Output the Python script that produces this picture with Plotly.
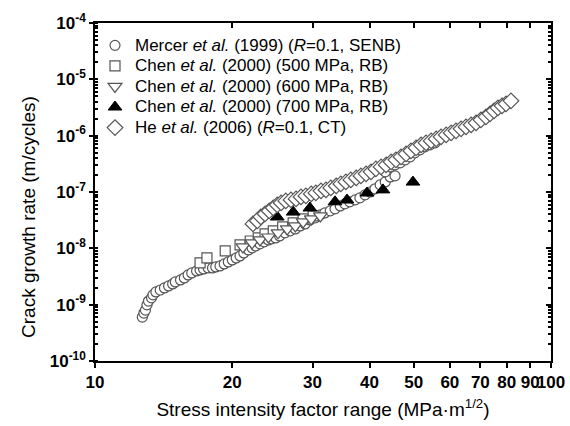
import plotly.graph_objects as go

# ---- Data ----
mercer_K = [12.7, 12.8, 12.9, 13.0, 13.1, 13.3, 13.4, 13.6, 13.9, 14.2, 14.5, 14.8, 15.0, 15.4,
            15.7, 16.0, 16.3, 16.7, 17.0, 17.3, 17.7, 18.1, 18.4, 18.8, 19.2, 19.6, 20.0, 20.4,
            20.8, 21.2, 21.7, 22.1, 22.5, 23.0, 23.5, 24.0, 24.4, 24.9, 25.4, 26.1, 26.8, 27.5,
            28.2, 28.9, 29.6, 30.4, 31.2, 31.9, 32.8, 33.6, 34.5, 35.3, 36.2, 37.2, 38.1, 39.1,
            40.1, 41.1, 42.2, 43.3, 44.4, 45.5,
            43.3, 44.4, 45.5, 46.7, 47.9, 49.1, 50.3, 51.6, 52.9, 54.3, 55.7]
mercer_da = [6.0e-10, 7.1e-10, 8.0e-10, 9.9e-10, 1.16e-9, 1.32e-9, 1.49e-9, 1.68e-9, 1.82e-9,
             1.98e-9, 2.15e-9, 2.33e-9, 2.53e-9, 2.75e-9, 2.98e-9, 3.37e-9, 3.66e-9, 3.97e-9,
             4.13e-9, 4.31e-9, 4.49e-9, 4.49e-9, 4.67e-9, 4.87e-9, 5.28e-9, 5.73e-9, 6.22e-9,
             6.75e-9, 7.33e-9, 8.29e-9, 9.37e-9, 1.02e-8, 1.10e-8, 1.20e-8, 1.30e-8, 1.41e-8,
             1.47e-8, 1.53e-8, 1.66e-8, 1.88e-8, 2.04e-8, 2.21e-8, 2.50e-8, 2.71e-8, 3.19e-8,
             3.47e-8, 3.92e-8, 4.25e-8, 4.62e-8, 5.01e-8, 5.66e-8, 6.15e-8, 6.67e-8, 7.24e-8,
             7.86e-8, 8.88e-8, 1.00e-7, 1.14e-7, 1.34e-7, 1.51e-7, 1.85e-7, 1.93e-7,
             2.28e-7, 2.79e-7, 3.03e-7, 3.29e-7, 3.72e-7, 4.20e-7, 4.95e-7, 5.60e-7, 6.33e-7,
             6.87e-7, 7.45e-7]

chen500_K = [17.0, 17.6, 19.3, 20.8, 21.9, 22.8, 23.6, 24.6, 25.8, 27.2, 28.6, 30.1]
chen500_da = [5.5e-9, 6.75e-9, 8.99e-9, 1.15e-8, 1.35e-8, 1.53e-8, 1.80e-8, 2.04e-8, 2.40e-8,
              2.83e-8, 3.33e-8, 3.76e-8]

chen600_K = [21.1, 22.1, 23.0, 24.0, 25.2, 26.4, 27.5, 28.6, 29.8, 31.2]
chen600_da = [1.06e-8, 1.25e-8, 1.41e-8, 1.59e-8, 1.88e-8, 2.21e-8, 2.50e-8, 2.94e-8, 3.33e-8,
              3.76e-8]

chen700_K = [25.1, 27.2, 29.6, 33.6, 35.7, 39.5, 42.8, 49.8]
chen700_da = [3.6e-8, 4.4e-8, 5.2e-8, 6.7e-8, 7.2e-8, 9.6e-8, 1.09e-7, 1.5e-7]

he_K = [22.2, 22.7, 23.1, 23.6, 24.1, 24.6, 25.1, 25.6, 26.2, 26.9, 27.6, 28.3, 29.0, 29.8,
        30.5, 31.3, 32.1, 32.9, 33.8, 34.6, 35.5, 36.4, 37.4, 38.3, 39.3, 40.3, 41.3, 42.4,
        43.5, 44.6, 45.7, 46.9, 48.1, 49.3, 50.6, 51.9, 53.2, 54.6, 56.0, 57.4, 58.9, 60.4,
        61.9, 63.5, 65.1, 66.8, 68.5, 70.2, 72.0, 73.5, 75.0, 76.5, 78.1, 79.7, 81.7]
he_da = [2.71e-8, 3.07e-8, 3.61e-8, 4.08e-8, 4.62e-8, 5.22e-8, 5.90e-8, 6.40e-8, 6.95e-8,
         7.24e-8, 7.54e-8, 8.19e-8, 8.53e-8, 9.25e-8, 9.64e-8, 1.05e-7, 1.09e-7, 1.18e-7,
         1.28e-7, 1.39e-7, 1.51e-7, 1.64e-7, 1.78e-7, 1.93e-7, 2.10e-7, 2.28e-7, 2.57e-7,
         2.79e-7, 3.03e-7, 3.42e-7, 3.72e-7, 4.20e-7, 4.75e-7, 5.37e-7, 6.07e-7, 6.87e-7,
         7.45e-7, 8.08e-7, 8.77e-7, 9.52e-7, 1.03e-6, 1.12e-6, 1.22e-6, 1.32e-6, 1.43e-6,
         1.56e-6, 1.69e-6, 1.91e-6, 2.16e-6, 2.44e-6, 2.76e-6, 3.12e-6, 3.38e-6, 3.67e-6,
         4.15e-6]

x_ticks = [10, 20, 30, 40, 50, 60, 70, 80, 90, 100]
y_exps = [-10, -9, -8, -7, -6, -5, -4]

names = ["Mercer <i>et al.</i> (1999) (<i>R</i>=0.1, SENB)",
         "Chen <i>et al.</i> (2000) (500 MPa, RB)",
         "Chen <i>et al.</i> (2000) (600 MPa, RB)",
         "Chen <i>et al.</i> (2000) (700 MPa, RB)",
         "He <i>et al.</i> (2006) (<i>R</i>=0.1, CT)"]

x_title = "Stress intensity factor range (MPa·m<sup>1/2</sup>)"
y_title = "Crack growth rate (m/cycles)"

# ---- Figure ----
GREY = "#555555"
FONT = "Liberation Sans, Arial, sans-serif"


def leg(name):
    # legend rows are spaced by the (smaller) legend font; text drawn larger
    return "<span style='font-size:17px'>" + name + "</span>"


fig = go.Figure()
fig.add_trace(go.Scatter(x=mercer_K, y=mercer_da, mode="markers", name=leg(names[0]),
                         marker=dict(symbol="circle", size=10, color="white",
                                     line=dict(color=GREY, width=1.2))))
fig.add_trace(go.Scatter(x=chen500_K, y=chen500_da, mode="markers", name=leg(names[1]),
                         marker=dict(symbol="square", size=10, color="white",
                                     line=dict(color=GREY, width=1.2))))
fig.add_trace(go.Scatter(x=chen600_K, y=chen600_da, mode="markers", name=leg(names[2]),
                         marker=dict(symbol="triangle-down", size=12, color="white",
                                     line=dict(color=GREY, width=1.2))))
fig.add_trace(go.Scatter(x=chen700_K, y=chen700_da, mode="markers", name=leg(names[3]),
                         marker=dict(symbol="triangle-up", size=12, color="black",
                                     line=dict(color="black", width=1))))
fig.add_trace(go.Scatter(x=he_K, y=he_da, mode="markers", name=leg(names[4]),
                         marker=dict(symbol="diamond", size=12, color="white",
                                     line=dict(color=GREY, width=1.2))))
# empty trace to carry the mirrored (top/right) axes
fig.add_trace(go.Scatter(x=[], y=[], xaxis="x2", yaxis="y2", showlegend=False,
                         hoverinfo="skip"))

xt_text = ["<b>%d</b>" % v for v in x_ticks]
yt_vals = [10.0 ** e for e in y_exps]
yt_text = ["<b>10<sup>%d</sup></b>" % e for e in y_exps]

fig.update_layout(
    width=570, height=426,
    margin=dict(l=95, r=19, t=23, b=65),
    paper_bgcolor="white", plot_bgcolor="white",
    font=dict(family=FONT, color="black", size=16),
    showlegend=True,
    legend=dict(x=0.0, y=0.979, xanchor="left", yanchor="top",
                bgcolor="rgba(0,0,0,0)", font=dict(size=13.5, family=FONT),
                itemwidth=30, tracegroupgap=0),
    xaxis=dict(type="log", range=[1, 2], tickvals=x_ticks, ticktext=xt_text,
               tickangle=0, automargin=False,
               ticks="outside", ticklen=5, tickwidth=1.5, tickcolor="black",
               showline=True, linecolor="black", linewidth=1.5, showgrid=False,
               zeroline=False, tickfont=dict(size=17, family=FONT),
               title=dict(text=x_title, font=dict(size=19, family=FONT), standoff=12)),
    yaxis=dict(type="log", range=[-10, -4], tickvals=yt_vals, ticktext=yt_text,
               automargin=False,
               ticks="outside", ticklen=4, tickwidth=1.5, tickcolor="black",
               minor=dict(ticks="inside", ticklen=3, tickcolor="black", dtick="D1"),
               showline=True, linecolor="black", linewidth=1.5, showgrid=False,
               zeroline=False, tickfont=dict(size=17, family=FONT)),
    xaxis2=dict(type="log", range=[1, 2], overlaying="x", side="top",
                tickvals=x_ticks, showticklabels=False, ticks="inside", ticklen=5,
                tickwidth=1.5, tickcolor="black", showline=True, linecolor="black",
                linewidth=1.5, showgrid=False, zeroline=False),
    yaxis2=dict(type="log", range=[-10, -4], overlaying="y", side="right",
                tickvals=yt_vals, showticklabels=False, ticks="inside", ticklen=5,
                tickwidth=1.5, tickcolor="black",
                minor=dict(ticks="inside", ticklen=3, tickcolor="black", dtick="D1"),
                showline=True, linecolor="black", linewidth=1.5, showgrid=False,
                zeroline=False),
    annotations=[dict(text=y_title, xref="paper", yref="paper", x=-0.147, y=0.426,
                      xanchor="center", yanchor="middle", textangle=-90, showarrow=False,
                      font=dict(size=19, family=FONT))],
)

fig.write_html("out.html", config={"displayModeBar": False},
               post_script="document.body.style.margin='0';")
